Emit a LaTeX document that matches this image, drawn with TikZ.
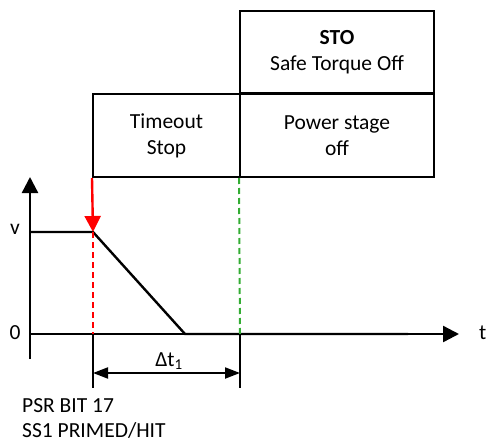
\documentclass[tikz,border=0pt]{standalone}
\usepackage{fontspec}
\setmainfont{Carlito}
\usetikzlibrary{arrows.meta}
\begin{document}
\begin{tikzpicture}[x=1pt,y=-1pt,
  txt/.style={font=\fontsize{21.5}{26}\selectfont, inner sep=0pt},
  box/.style={draw, line width=2pt, txt, align=center, inner sep=0pt},
  axis/.style={line width=2.4pt, -{Triangle[length=16pt,width=16pt]}},
  curve/.style={line width=2.4pt},
  dim/.style={line width=2pt, {Triangle[length=15pt,width=11pt]}-{Triangle[length=15pt,width=11pt]}},
  tick/.style={line width=1.8pt},
  reddash/.style={red, line width=2pt, dash pattern=on 6pt off 4pt},
  greendash/.style={green!60!black!80, line width=2pt, dash pattern=on 6pt off 4pt}]
\useasboundingbox (0,0) rectangle (487,441);
% boxes
\node[box, minimum width=194pt, minimum height=82pt] (sto) at (337,52) {\textbf{STO}\\Safe Torque Off};
\node[box, minimum width=147pt, minimum height=83pt] (tmo) at (166.5,135.5) {Timeout\\Stop};
\node[box, minimum width=194pt, minimum height=83pt] (pso) at (337,135.5) {Power stage\\off};
% coordinates
\coordinate (o) at (30,334);
\coordinate (ybot) at (30,359);
\coordinate (ytop) at (30,177);
\coordinate (xend) at (459,334);
\coordinate (v0) at (30,232);
\coordinate (v1) at (93,232);
\coordinate (v2) at (185,334);
\coordinate (v3) at (408,334);
\coordinate (r0) at (93,334);
\coordinate (g0) at (240,334);
\coordinate (rb) at (93,388);
\coordinate (gb) at (240,388);
\coordinate (dl) at (93,373);
\coordinate (dr) at (240,373);
% axes
\draw[axis] (ybot) -- (ytop);
\draw[axis] (o) -- (xend);
% velocity profile
\draw[curve] (v0) -- (v1) -- (v2) -- (v3);
% red trigger
\draw[red, line width=2.4pt, -{Triangle[length=16pt,width=16pt]}] (tmo.south west) -- (v1);
\draw[reddash] (v1) -- (r0);
% green dashed
\draw[greendash] (pso.south west) -- (g0);
% ticks and dimension
\draw[tick] (r0) -- (rb);
\draw[tick] (g0) -- (gb);
\draw[dim] (dl) -- (dr);
% labels
\node[txt] (lv) at (15,229) {v};
\node[txt] (l0) at (15,333) {0};
\node[txt, anchor=east] (lt) at (486.5,333) {t};
\node[txt, anchor=base] (ldt) at (169,366) {Δt\textsubscript{1}};
\node[txt, anchor=base west] (lpsr) at (22,412) {PSR BIT 17};
\node[txt, anchor=base west] (lss) at (22,437) {SS1 PRIMED/HIT};
\end{tikzpicture}
\end{document}
